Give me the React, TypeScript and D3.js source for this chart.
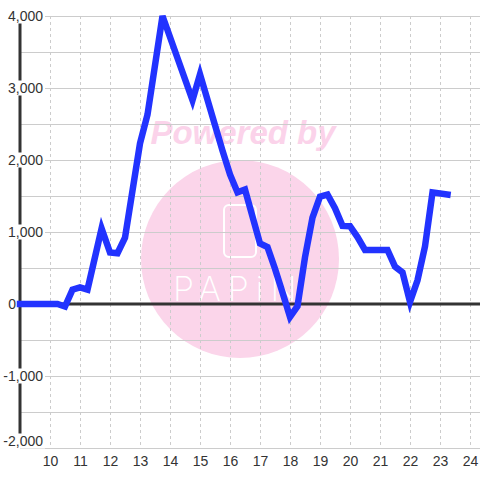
import React from "react";
import * as d3 from "d3";

const hours = [9.0, 10.25, 10.5, 10.75, 11.0, 11.25, 11.72, 12.0, 12.25, 12.5, 13.0, 13.25, 13.75, 14.75, 15.0, 15.75, 16.0, 16.25, 16.5, 17.0, 17.25, 17.5, 17.75, 18.0, 18.25, 18.5, 18.75, 19.0, 19.25, 19.5, 19.75, 20.0, 20.25, 20.5, 21.25, 21.5, 21.75, 22.0, 22.25, 22.5, 22.75, 23.25];
const values = [0, 0, -35, 200, 230, 200, 1050, 715, 705, 920, 2230, 2630, 4000, 2830, 3190, 2130, 1800, 1550, 1590, 840, 790, 490, 160, -180, -30, 650, 1200, 1490, 1520, 1330, 1085, 1080, 930, 750, 750, 520, 440, 30, 330, 800, 1550, 1520];
const yTickValues = [-2000, -1000, 0, 1000, 2000, 3000, 4000];
const yGridValues = [-2000, -1500, -1000, -500, 0, 500, 1000, 1500, 2000, 2500, 3000, 3500, 4000];
const xTickValues = [10, 11, 12, 13, 14, 15, 16, 17, 18, 19, 20, 21, 22, 23, 24];

export default function App() {
  const W = 480, H = 480;
  const left = 20, right = 480, top = 16, bottom = 448;
  const x = d3.scaleLinear().domain([9, 24]).range([20, 470]);
  const y = d3.scaleLinear().domain([-2000, 4000]).range([bottom, top]);
  const fmt = d3.formatLocale({ decimal: ".", thousands: ",", grouping: [3], currency: ["", ""], minus: "-" }).format(",");
  const data = hours.map((h, i) => [h, values[i]] as [number, number]);
  const line = d3.line<[number, number]>().x(d => x(d[0])).y(d => y(d[1]));
  const font = "'Liberation Sans', Arial, sans-serif";

  return (
    <svg width={W} height={H} style={{ position: "absolute", left: 0, top: 0, background: "#fff" }}>
      <rect x={0} y={0} width={W} height={H} fill="#fff" />
      {/* watermark */}
      <g>
        <circle cx={240} cy={259} r={99} fill="#fbd5ea" />
        <text x={243} y={144} textAnchor="middle" fontFamily={font} fontWeight="bold" fontStyle="italic" fontSize={33} fill="#fbd3ea">Powered by</text>
        <rect x={224} y={205} width={32} height={52} rx={5} fill="none" stroke="#fff" strokeWidth={2} />
        <text x={173} y={301} textAnchor="start" fontFamily="Inter, 'Noto Sans', sans-serif" fontWeight={200} fontSize={34} letterSpacing={7} fill="#fff">PAPiN</text>
      </g>
      {/* grid */}
      <g shapeRendering="crispEdges">
        {yGridValues.map(v => (
          <line key={"h" + v} x1={left} x2={right} y1={Math.round(y(v)) + 0.5} y2={Math.round(y(v)) + 0.5} stroke="#cccccc" strokeWidth={1} />
        ))}
        {xTickValues.map(h => (
          <line key={"v" + h} x1={Math.round(x(h)) + 0.5} x2={Math.round(x(h)) + 0.5} y1={top} y2={bottom} stroke="#cccccc" strokeWidth={1} strokeDasharray="3,3" />
        ))}
      </g>
      {/* y axis line */}
      <line x1={20} x2={20} y1={top} y2={bottom} stroke="#333" strokeWidth={3} />
      {/* zero line */}
      <line x1={left} x2={right} y1={y(0)} y2={y(0)} stroke="#333" strokeWidth={3} />
      {/* y labels */}
      {yTickValues.map(v => {
        const label = fmt(v);
        const cy = Math.min(y(v), bottom - 7);
        const endX = v === 0 ? 16 : 43;
        const w = label.length * 7.6;
        return (
          <g key={"yl" + v}>
            <rect x={endX - w - 1} y={cy - 7.5} width={w + 3} height={15} fill="#fff" />
            <text x={endX} y={cy} dy="0.35em" textAnchor="end" fontFamily={font} fontSize={14} fill="#333">{label}</text>
          </g>
        );
      })}
      {/* x labels */}
      {xTickValues.map(h => (
        <text key={"xl" + h} x={x(h) + 0.5} y={466} textAnchor="middle" fontFamily={font} fontSize={14} fill="#333">{h}</text>
      ))}
      {/* data line */}
      <path d={line(data) || ""} fill="none" stroke="#2233ff" strokeWidth={6.5} strokeLinecap="square" strokeLinejoin="miter" />
    </svg>
  );
}
